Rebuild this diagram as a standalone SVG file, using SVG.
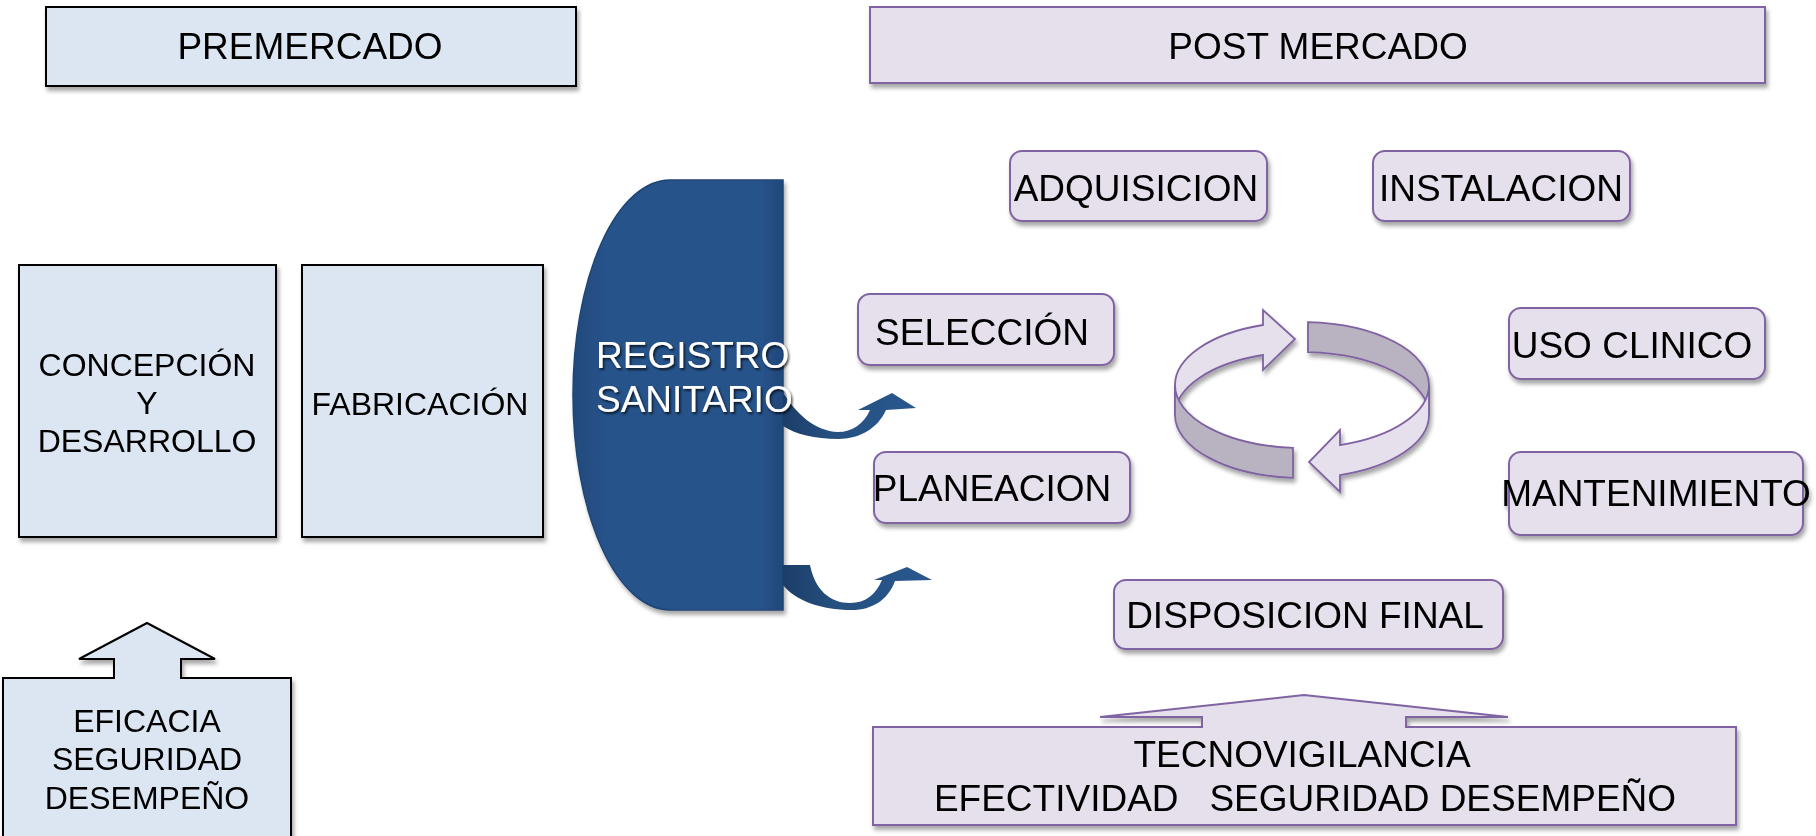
<svg xmlns="http://www.w3.org/2000/svg" width="1816" height="836" viewBox="0 0 1816 836">
<defs>
<style>
text{font-family:"Liberation Sans",Arial,sans-serif;fill:#000;text-anchor:middle}
.t37{font-size:37px}
.t32{font-size:32px}
.pre{fill:#dce6f2;stroke:#000;stroke-width:2}
.post{fill:#e5e0ec;stroke:#8064a2;stroke-width:2}
.lt{fill:#e5e0ec;stroke:#7f62a1;stroke-width:1.8}
.dk{fill:#b9b2c1;stroke:#7f62a1;stroke-width:1.8}
.wt{fill:#fff;font-size:37px;text-anchor:start}
</style>
<filter id="sh" x="-10%" y="-10%" width="130%" height="140%">
<feDropShadow dx="2" dy="4" stdDeviation="2" flood-color="#000" flood-opacity="0.35"/>
</filter>
<filter id="tsh" x="-10%" y="-20%" width="130%" height="150%">
<feDropShadow dx="1.5" dy="2" stdDeviation="1" flood-color="#000" flood-opacity="0.7"/>
</filter>
<linearGradient id="reg" x1="0" y1="0" x2="1" y2="0">
<stop offset="0" stop-color="#234a7b"/>
<stop offset="0.15" stop-color="#27528a"/>
<stop offset="0.9" stop-color="#27528a"/>
<stop offset="1" stop-color="#22477a"/>
</linearGradient>
<linearGradient id="arr" x1="0" y1="0" x2="1" y2="0">
<stop offset="0" stop-color="#1c3d69"/>
<stop offset="0.35" stop-color="#25507f"/>
<stop offset="1" stop-color="#29578f"/>
</linearGradient>
</defs>

<g id="premercado" filter="url(#sh)">
<rect class="pre" x="46" y="7" width="530" height="79"/>
<text class="t37" x="310" y="59">PREMERCADO</text>
</g>

<g id="postmercado" filter="url(#sh)">
<rect class="post" x="870" y="7" width="895" height="76"/>
<text class="t37" x="1318" y="59">POST MERCADO</text>
</g>

<g id="concepcion" filter="url(#sh)">
<rect class="pre" x="19" y="265" width="257" height="272"/>
<text class="t32" x="147" y="376">CONCEPCIÓN</text>
<text class="t32" x="147" y="414">Y</text>
<text class="t32" x="147" y="452">DESARROLLO</text>
</g>

<g id="fabricacion" filter="url(#sh)">
<rect class="pre" x="302" y="265" width="241" height="272"/>
<text class="t32" x="420" y="415">FABRICACIÓN</text>
</g>

<g id="eficacia" filter="url(#sh)">
<path class="pre" d="M3,678 L114,678 L114,659 L79,659 L147,623 L215,659 L181,659 L181,678 L291,678 L291,842 L3,842 Z"/>
<text class="t32" x="147" y="732">EFICACIA</text>
<text class="t32" x="147" y="770">SEGURIDAD</text>
<text class="t32" x="147" y="809">DESEMPEÑO</text>
</g>

<g id="registro">
<path d="M783,180 L670,180 A97 215 0 0 0 670,610 L783,610 Z" fill="url(#reg)" stroke="#1f4575" stroke-width="1.5" filter="url(#sh)"/>
</g>

<g id="connectors">
<path d="M783,392 C796,414 815,431 838,432 C852,432 864,424 870,410 L858,410 L892,393 L916,408 L886,410 C878,428 860,439 838,439 C815,439 795,434 783,426 Z" fill="url(#arr)"/>
<path d="M783,565 L810,565 C815,590 830,603 850,603 C866,603 876,594 882,580 L874,580 L907,567 L932,580 L895,581 C888,600 872,610 852,610 C820,610 795,600 783,585 Z" fill="url(#arr)"/>
<g id="cycle" filter="url(#sh)">
<path class="dk" d="M1308,322.1 A127 63 0 0 1 1429,385 L1429,415 A127 63 0 0 0 1308,352.1 Z"/>
<path class="lt" d="M1175,385 A127 63 0 0 1 1263,325 L1263,310 L1295,339 L1263,370 L1263,355 A127 63 0 0 0 1175,415 Z"/>
<path class="dk" d="M1175,385 A127 63 0 0 0 1293,447.8 L1293,477.8 A127 63 0 0 1 1175,415 Z"/>
<path class="lt" d="M1429,385 A127 63 0 0 1 1340,445.1 L1340,430 L1309,462 L1340,492 L1340,475.1 A127 63 0 0 0 1429,415 Z"/>
</g>
</g>

<g id="registro-label" filter="url(#tsh)">
<text class="wt" x="596" y="368">REGISTRO</text>
<text class="wt" x="596" y="412">SANITARIO</text>
</g>

<g id="adquisicion" filter="url(#sh)">
<rect class="post" x="1010" y="151" width="257" height="70" rx="12"/>
<text class="t37" x="1136" y="201">ADQUISICION</text>
</g>

<g id="instalacion" filter="url(#sh)">
<rect class="post" x="1373" y="151" width="257" height="70" rx="12"/>
<text class="t37" x="1501" y="201">INSTALACION</text>
</g>

<g id="seleccion" filter="url(#sh)">
<rect class="post" x="858" y="294" width="256" height="71" rx="12"/>
<text class="t37" x="982" y="345">SELECCIÓN</text>
</g>

<g id="planeacion" filter="url(#sh)">
<rect class="post" x="874" y="452" width="256" height="71" rx="12"/>
<text class="t37" x="992" y="501">PLANEACION</text>
</g>

<g id="usoclinico" filter="url(#sh)">
<rect class="post" x="1509" y="308" width="256" height="71" rx="12"/>
<text class="t37" x="1632" y="358">USO CLINICO</text>
</g>

<g id="mantenimiento" filter="url(#sh)">
<rect class="post" x="1509" y="452" width="294" height="83" rx="12"/>
<text class="t37" x="1656" y="506">MANTENIMIENTO</text>
</g>

<g id="disposicion" filter="url(#sh)">
<rect class="post" x="1114" y="580" width="389" height="69" rx="12"/>
<text class="t37" x="1305" y="628">DISPOSICION FINAL</text>
</g>

<g id="tecnovigilancia" filter="url(#sh)">
<path class="post" d="M873,727 L1202,727 L1202,717 L1100,717 L1304,695 L1508,717 L1406,717 L1406,727 L1736,727 L1736,825 L873,825 Z"/>
<text class="t37" x="1302" y="767">TECNOVIGILANCIA</text>
<text class="t37" x="1305" y="811" style="white-space:pre">EFECTIVIDAD   SEGURIDAD DESEMPEÑO</text>
</g>
</svg>
